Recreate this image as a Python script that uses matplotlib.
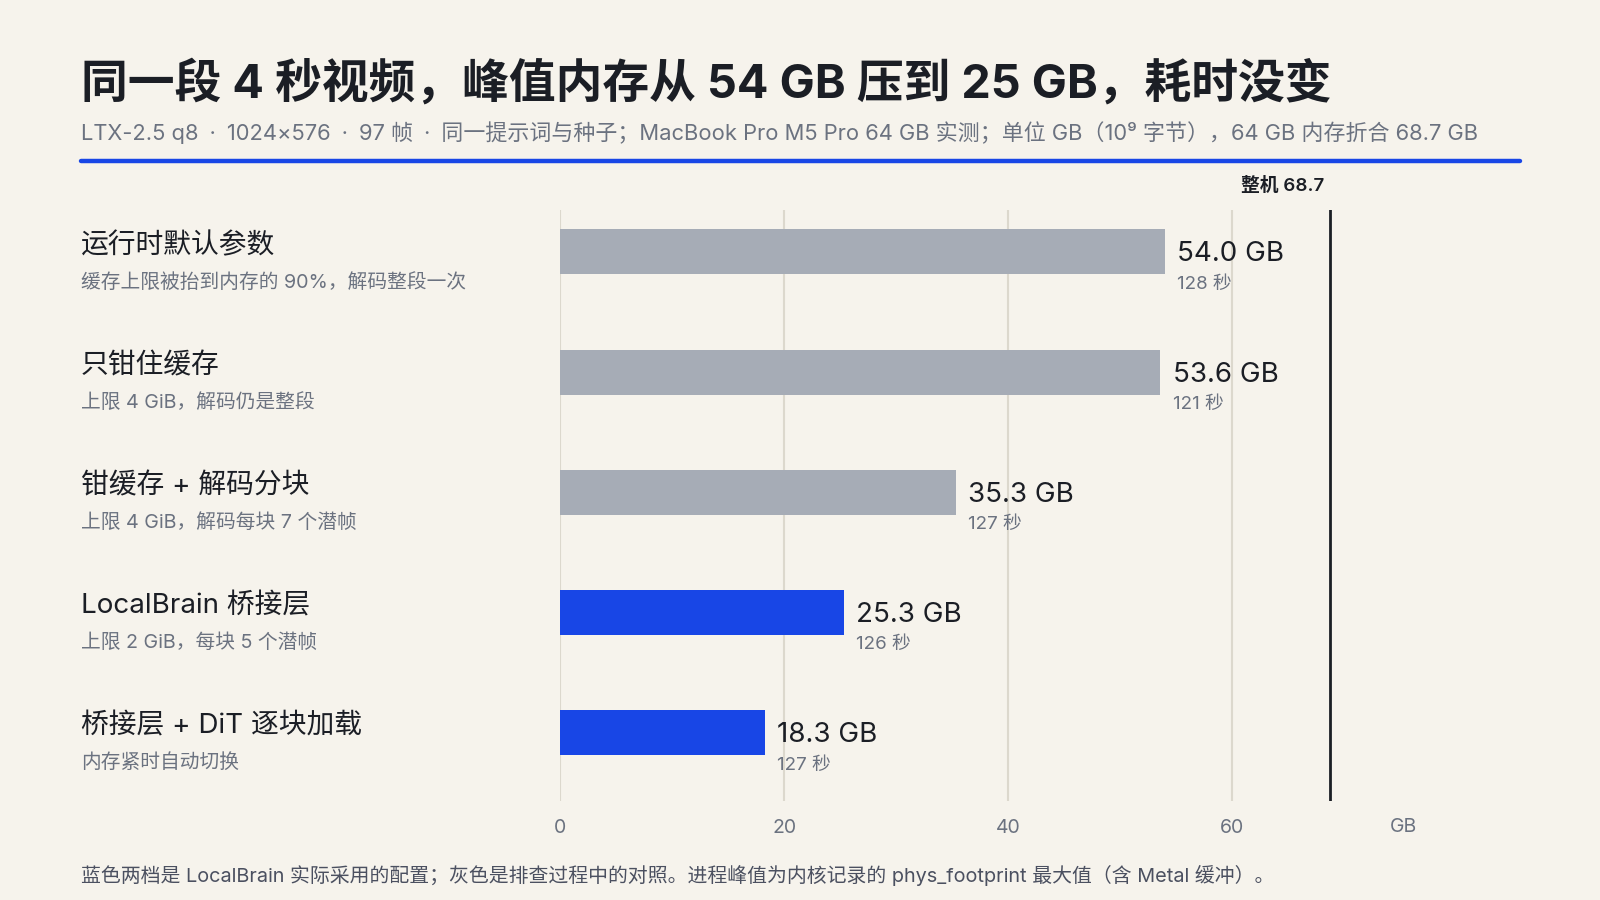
import matplotlib.pyplot as plt
from matplotlib.transforms import blended_transform_factory

plt.rcParams['font.family'] = ['Inter', 'Noto Sans CJK SC', 'DejaVu Sans']

# data
labels = ["运行时默认参数", "只钳住缓存", "钳缓存 + 解码分块", "LocalBrain 桥接层", "桥接层 + DiT 逐块加载"]
notes = ["缓存上限被抬到内存的 90%，解码整段一次", "上限 4 GiB，解码仍是整段",
         "上限 4 GiB，解码每块 7 个潜帧", "上限 2 GiB，每块 5 个潜帧", "内存紧时自动切换"]
peak_gb = [54.0, 53.6, 35.3, 25.3, 18.3]
seconds = [128, 121, 127, 126, 127]
adopted = [False, False, False, True, True]
machine_gb = 68.7
ticks = [0, 20, 40, 60]

BG = "#f6f3ec"
BLUE = "#1846e6"
GRAY = "#a6acb6"
DARK = "#1b1e25"
MUTED = "#6b7280"

fig = plt.figure(figsize=(16, 9), dpi=100, facecolor=BG)
W, H = 1568, 882  # reference pixel grid used for layout


def fx(px):
    return px / W


def fy(py):
    return 1 - py / H


ax = fig.add_axes([fx(549), fy(785), fx(1427) - fx(549), fy(206) - fy(785)])
ax.set_facecolor(BG)
ax.set_xlim(0, 80)
ax.set_ylim(4.568, -0.347)

rows = list(range(len(labels)))
colors = [BLUE if a else GRAY for a in adopted]
ax.barh(rows, peak_gb, height=0.373, color=colors, zorder=3)

for t in ticks:
    ax.axvline(t, color="#dcd8cd", lw=1.5, zorder=1)
ax.axvline(machine_gb, color=DARK, lw=2, zorder=4)

for sp in ax.spines.values():
    sp.set_visible(False)
ax.set_yticks([])
ax.set_xticks(ticks)
ax.tick_params(axis='x', length=0, pad=13, labelsize=14, labelcolor=MUTED)

for r, v, s in zip(rows, peak_gb, seconds):
    ax.text(v + 1.1, r + 0.02, f"{v:.1f} GB", fontsize=20, color=DARK, va='center', ha='left', zorder=5)
    ax.text(v + 1.1, r + 0.27, f"{s} 秒", fontsize=13.5, color=MUTED, va='center', ha='left', zorder=5)

trans = blended_transform_factory(fig.transFigure, ax.transData)
for r, lab, note in zip(rows, labels, notes):
    ax.text(fx(79), r - 0.05, lab, transform=trans, fontsize=20, color=DARK, va='center', ha='left')
    ax.text(fx(79), r + 0.25, note, transform=trans, fontsize=14.2, color=MUTED, va='center', ha='left')

ax.text(machine_gb - 0.5, -0.55, f"整机 {machine_gb}", fontsize=13.5, color=DARK, fontweight='semibold',
        ha='right', va='center', clip_on=False)
gb_trans = blended_transform_factory(ax.transData, fig.transFigure)
ax.text(75.3, fy(810), "GB", transform=gb_trans, fontsize=14, color=MUTED, ha='center', va='center',
        clip_on=False)

fig.text(fx(79), fy(82), "同一段 4 秒视频，峰值内存从 54 GB 压到 25 GB，耗时没变",
         fontsize=33.7, fontweight='bold', color=DARK, ha='left', va='center')
sep = "\u2002·\u2002"
fig.text(fx(79), fy(130),
         f"LTX-2.5 q8{sep}1024×576{sep}97 帧{sep}同一提示词与种子；MacBook Pro M5 Pro 64 GB 实测；单位 GB（10⁹ 字节），64 GB 内存折合 68.7 GB",
         fontsize=15.8, color=MUTED, ha='left', va='center')
fig.add_artist(plt.Line2D([fx(79), fx(1490)], [fy(158), fy(158)], color=BLUE, lw=3.2,
                          solid_capstyle='round', transform=fig.transFigure))
fig.text(fx(79), fy(858),
         "蓝色两档是 LocalBrain 实际采用的配置；灰色是排查过程中的对照。进程峰值为内核记录的 phys_footprint 最大值（含 Metal 缓冲）。",
         fontsize=14.3, color="#4b5060", ha='left', va='center')

fig.savefig("out.png", dpi=100, facecolor=BG)
